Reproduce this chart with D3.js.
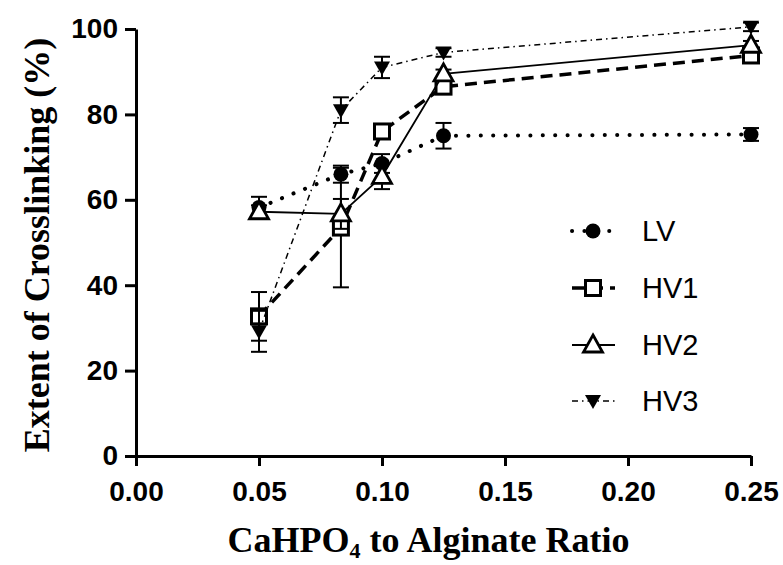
<!DOCTYPE html>
<html lang="en">
<head>
    <meta charset="UTF-8">
    <script src="https://d3js.org/d3.v7.min.js"></script>
    <title>Crosslinking</title>
    <style>
        body { margin: 0; background: #fff; }
    </style>
</head>
<body>
<div id="viz"></div>
<script>
    // data
    const ratios = [0.05, 0.0833, 0.1, 0.125, 0.25];
    const seriesNames = ["LV", "HV1", "HV2", "HV3"];
    const lvMean = [58.2, 66.0, 68.5, 75.0, 75.3];
    const lvErr = [2.5, 2.0, 2.2, 3.0, 1.5];
    const hv1Mean = [32.7, 53.5, 76.0, 86.5, 93.8];
    const hv1Err = [5.7, 14.0, 1.5, 1.0, 1.0];
    const hv2Mean = [57.2, 56.7, 65.5, 89.5, 96.2];
    const hv2Err = [1.5, 3.5, 3.0, 1.0, 1.0];
    const hv3Mean = [29.2, 81.0, 91.0, 94.5, 100.5];
    const hv3Err = [4.8, 3.0, 2.5, 1.0, 1.0];
    const xTicks = [0, 0.05, 0.10, 0.15, 0.20, 0.25];
    const yTicks = [0, 20, 40, 60, 80, 100];

    const width = 783, height = 565;
    const plot = {left: 136, right: 751, top: 29, bottom: 456};

    const svg = d3.select("#viz")
        .append("svg")
        .attr("width", width)
        .attr("height", height);

    const x = d3.scaleLinear().domain([0, 0.25]).range([plot.left, plot.right]);
    const y = d3.scaleLinear().domain([0, 100]).range([plot.bottom, plot.top]);

    // line styles per series
    const styles = {
        LV: {dash: "0.1 12.3", width: 4, cap: "round", marker: "circle"},
        HV1: {dash: "12 7", width: 3.5, cap: "butt", marker: "square"},
        HV2: {dash: null, width: 1.8, cap: "butt", marker: "triangle"},
        HV3: {dash: "6 4 1.5 4", width: 1.5, cap: "butt", marker: "triangleDown"}
    };

    const series = [
        {name: "LV", mean: lvMean, err: lvErr},
        {name: "HV1", mean: hv1Mean, err: hv1Err},
        {name: "HV2", mean: hv2Mean, err: hv2Err},
        {name: "HV3", mean: hv3Mean, err: hv3Err}
    ];

    function drawMarker(g, type, cx, cy) {
        if (type === "circle") {
            g.append("circle").attr("cx", cx).attr("cy", cy).attr("r", 7.5).attr("fill", "black");
        } else if (type === "square") {
            g.append("rect").attr("x", cx - 7.5).attr("y", cy - 7.5)
                .attr("width", 15).attr("height", 15)
                .attr("fill", "white").attr("stroke", "black").attr("stroke-width", 3);
        } else if (type === "triangle") {
            g.append("path")
                .attr("d", `M${cx},${cy - 10}L${cx + 9.5},${cy + 7}L${cx - 9.5},${cy + 7}Z`)
                .attr("fill", "white").attr("stroke", "black").attr("stroke-width", 2.8)
                .attr("stroke-linejoin", "miter");
        } else {
            g.append("path")
                .attr("d", `M${cx - 8},${cy - 6}L${cx + 8},${cy - 6}L${cx},${cy + 8}Z`)
                .attr("fill", "black");
        }
    }

    // axes
    const yAxis = svg.append("g")
        .attr("transform", `translate(${plot.left},0)`)
        .call(d3.axisLeft(y).tickValues(yTicks).tickSize(11).tickSizeOuter(0).tickPadding(7));
    const xAxis = svg.append("g")
        .attr("transform", `translate(0,${plot.bottom})`)
        .call(d3.axisBottom(x).tickValues(xTicks).tickSize(10).tickSizeOuter(0).tickPadding(15)
            .tickFormat(d3.format(".2f")));

    [xAxis, yAxis].forEach(a => {
        a.select(".domain").attr("stroke-width", 3).attr("stroke", "black");
        a.selectAll(".tick line").attr("stroke-width", 3).attr("stroke", "black");
        a.selectAll(".tick text")
            .style("font-family", "'Liberation Sans', Arial, sans-serif")
            .style("font-weight", "bold")
            .style("font-size", "28px")
            .attr("fill", "black");
    });

    // series lines, error bars and markers
    const line = d3.line().x(d => x(d[0])).y(d => y(d[1]));

    series.forEach(s => {
        const st = styles[s.name];
        const pts = ratios.map((r, i) => [r, s.mean[i], s.err[i]]);
        const g = svg.append("g");

        g.append("path")
            .datum(pts)
            .attr("d", line)
            .attr("fill", "none")
            .attr("stroke", "black")
            .attr("stroke-width", st.width)
            .attr("stroke-linecap", st.cap)
            .attr("stroke-dasharray", st.dash);

        pts.forEach(p => {
            const cx = x(p[0]);
            g.append("line")
                .attr("x1", cx).attr("x2", cx)
                .attr("y1", y(p[1] - p[2])).attr("y2", y(p[1] + p[2]))
                .attr("stroke", "black").attr("stroke-width", 2);
            [p[1] - p[2], p[1] + p[2]].forEach(v => {
                g.append("line")
                    .attr("x1", cx - 8).attr("x2", cx + 8)
                    .attr("y1", y(v)).attr("y2", y(v))
                    .attr("stroke", "black").attr("stroke-width", 2);
            });
        });

        pts.forEach(p => drawMarker(g, st.marker, x(p[0]), y(p[1])));
    });

    // legend
    const legendY = [231, 288, 345, 401];
    const legend = svg.append("g");
    seriesNames.forEach((name, i) => {
        const st = styles[name];
        const ly = legendY[i];
        legend.append("line")
            .attr("x1", 572).attr("x2", 615)
            .attr("y1", ly).attr("y2", ly)
            .attr("stroke", "black")
            .attr("stroke-width", st.width)
            .attr("stroke-linecap", st.cap)
            .attr("stroke-dasharray", st.dash);
        drawMarker(legend, st.marker, 593, ly);
        legend.append("text")
            .attr("x", 642)
            .attr("y", ly + 10)
            .style("font-family", "'Liberation Sans', Arial, sans-serif")
            .style("font-size", "29px")
            .text(name);
    });

    // axis titles
    const xTitle = svg.append("text")
        .attr("x", (plot.left + plot.right) / 2 - 15)
        .attr("y", 552)
        .attr("text-anchor", "middle")
        .style("font-family", "'Liberation Serif', 'Times New Roman', serif")
        .style("font-weight", "bold")
        .style("font-size", "36px");
    xTitle.append("tspan").text("CaHPO");
    xTitle.append("tspan").attr("dy", 6).style("font-size", "22px").text("4");
    xTitle.append("tspan").attr("dy", -6).text(" to Alginate Ratio");

    svg.append("text")
        .attr("transform", "translate(49,245) rotate(-90)")
        .attr("text-anchor", "middle")
        .style("font-family", "'Liberation Serif', 'Times New Roman', serif")
        .style("font-weight", "bold")
        .style("font-size", "36px")
        .text("Extent of Crosslinking (%)");
</script>
</body>
</html>
